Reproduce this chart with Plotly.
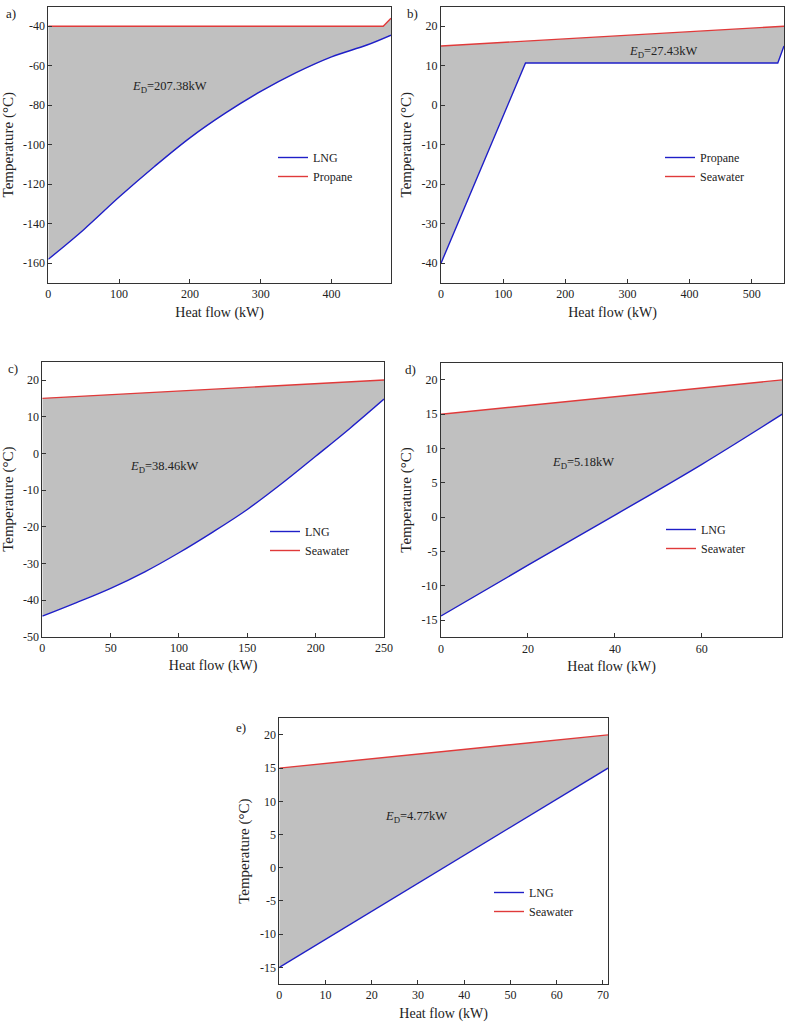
import plotly.graph_objects as go

# ---- data ----
a_lng_x = [0, 50, 100, 150, 200, 250, 300, 350, 400, 450, 484]
a_lng_y = [-158, -143, -126.5, -111, -96.5, -84, -73, -63.5, -55.5, -49.5, -44.5]
a_pro_x = [0, 473, 484]
a_pro_y = [-40, -40, -36]

b_pro_x = [0, 136, 542, 552]
b_pro_y = [-40, 10.7, 10.7, 15]
b_sea_x = [0, 552]
b_sea_y = [15, 20]

c_lng_x = [0, 25, 50, 75, 100, 125, 150, 175, 200, 225, 250]
c_lng_y = [-44.4, -40.7, -36.8, -32.3, -27.1, -21.4, -15.3, -8.3, -0.8, 6.8, 14.8]
c_sea_x = [0, 250]
c_sea_y = [15, 20]

d_lng_x = [0, 20, 40, 60, 78.5]
d_lng_y = [-14.4, -7.0, 0.3, 7.7, 15]
d_sea_x = [0, 78.5]
d_sea_y = [15, 20]

e_lng_x = [0, 35, 71.1]
e_lng_y = [-15, -0.2, 15]
e_sea_x = [0, 71.1]
e_sea_y = [15, 20]

# tick values
a_yticks = [-160, -140, -120, -100, -80, -60, -40]
b_yticks = [-40, -30, -20, -10, 0, 10, 20]
c_yticks = [-50, -40, -30, -20, -10, 0, 10, 20]
d_yticks = [-15, -10, -5, 0, 5, 10, 15, 20]
e_yticks = [-15, -10, -5, 0, 5, 10, 15, 20]

panels = [
    dict(lab="a)", cold=("LNG", a_lng_x, a_lng_y), hot=("Propane", a_pro_x, a_pro_y),
         xr=[0, 484], yr=[-170, -30], xd=100, yt=a_yticks, ed="207.38", ex=115, ey=-71, spline=True),
    dict(lab="b)", cold=("Propane", b_pro_x, b_pro_y), hot=("Seawater", b_sea_x, b_sea_y),
         xr=[0, 552], yr=[-45, 25], xd=100, yt=b_yticks, ed="27.43", ex=300, ey=13.5, spline=False),
    dict(lab="c)", cold=("LNG", c_lng_x, c_lng_y), hot=("Seawater", c_sea_x, c_sea_y),
         xr=[0, 250], yr=[-50, 25], xd=50, yt=c_yticks, ed="38.46", ex=63, ey=-3.8, spline=True),
    dict(lab="d)", cold=("LNG", d_lng_x, d_lng_y), hot=("Seawater", d_sea_x, d_sea_y),
         xr=[0, 78.5], yr=[-17.5, 22.5], xd=20, yt=d_yticks, ed="5.18", ex=25, ey=7.9, spline=True),
    dict(lab="e)", cold=("LNG", e_lng_x, e_lng_y), hot=("Seawater", e_sea_x, e_sea_y),
         xr=[0, 71.1], yr=[-17.5, 22.5], xd=10, yt=e_yticks, ed="4.77", ex=22.4, ey=7.7, spline=False),
]

W, H = 789, 1025
# plot-area boxes in pixels: left, right, top, bottom
boxes = [(48.3, 391, 6.5, 283), (441, 784, 6.5, 283), (42.3, 384, 361.7, 636.7),
         (441, 782.3, 362.7, 637.3), (279.3, 608, 718.3, 984)]
label_pos = [(4, 13), (405, 13), (6, 368), (403, 369), (234, 727)]
legend_pos = [(281, 159), (668, 159), (273, 533), (669, 531), (497, 894)]

FONT = "Liberation Serif"
BLUE = "#1f1fc8"
RED = "#e03a3a"

fig = go.Figure()
layout = dict(width=W, height=H, margin=dict(l=0, r=0, t=0, b=0, autoexpand=False),
              paper_bgcolor="white", plot_bgcolor="white",
              font=dict(family=FONT, size=12, color="#222"), annotations=[])

for i, p in enumerate(panels):
    n = "" if i == 0 else str(i + 1)
    xa, ya = "x" + n, "y" + n
    lg = "legend" + n
    l, r, t, b = boxes[i]
    hx, hy = p["hot"][1], p["hot"][2]
    cx, cy = p["cold"][1], p["cold"][2]
    shape = "spline" if p["spline"] else "linear"
    fig.add_trace(go.Scatter(x=hx + cx[::-1], y=hy + cy[::-1], fill="toself",
                             fillcolor="#c0c0c0", line=dict(width=0), mode="lines",
                             showlegend=False, hoverinfo="skip", xaxis=xa, yaxis=ya))
    fig.add_trace(go.Scatter(x=cx, y=cy, mode="lines", name=p["cold"][0],
                             line=dict(color=BLUE, width=1.4, shape=shape),
                             xaxis=xa, yaxis=ya, legend=lg))
    fig.add_trace(go.Scatter(x=hx, y=hy, mode="lines", name=p["hot"][0],
                             line=dict(color=RED, width=1.4), xaxis=xa, yaxis=ya, legend=lg))
    axcommon = dict(showgrid=False, zeroline=False, showline=True, linecolor="#333",
                    linewidth=1, mirror=True, ticks="inside", ticklen=4, tickcolor="#333",
                    automargin=True,
                    tickfont=dict(family=FONT, size=12, color="#222"))
    layout["xaxis" + n] = dict(axcommon, domain=[l / W, r / W], range=p["xr"], dtick=p["xd"],
                               tick0=0, anchor=ya,
                               title=dict(text="Heat flow (kW)", standoff=6,
                                          font=dict(family=FONT, size=14)))
    layout["yaxis" + n] = dict(axcommon, domain=[1 - b / H, 1 - t / H], range=p["yr"],
                               tickmode="array", tickvals=p["yt"],
                               ticktext=[str(v) for v in p["yt"]], anchor=xa,
                               title=dict(text="Temperature (°C)", standoff=6,
                                          font=dict(family=FONT, size=15)))
    lx, ly = legend_pos[i]
    layout[lg] = dict(x=(lx - 8) / W, y=1 - (ly - 16) / H, xanchor="left", yanchor="top",
                      bgcolor="rgba(0,0,0,0)", font=dict(family=FONT, size=12, color="#222"),
                      tracegroupgap=0)
    layout["annotations"].append(dict(text="<i>E</i><sub>D</sub>=" + p["ed"] + "kW",
                                      x=p["ex"], y=p["ey"], xref=xa, yref=ya, xanchor="left",
                                      yanchor="middle", showarrow=False,
                                      font=dict(family=FONT, size=12.5, color="#222")))
    px, py = label_pos[i]
    layout["annotations"].append(dict(text=p["lab"], x=px / W, y=1 - py / H, xref="paper",
                                      yref="paper", xanchor="left", yanchor="middle",
                                      showarrow=False, font=dict(family=FONT, size=13, color="#222")))

fig.update_layout(**layout)
fig.write_html("out.html", config={"displayModeBar": False},
               post_script="document.body.style.margin='0';document.body.style.padding='0';")
